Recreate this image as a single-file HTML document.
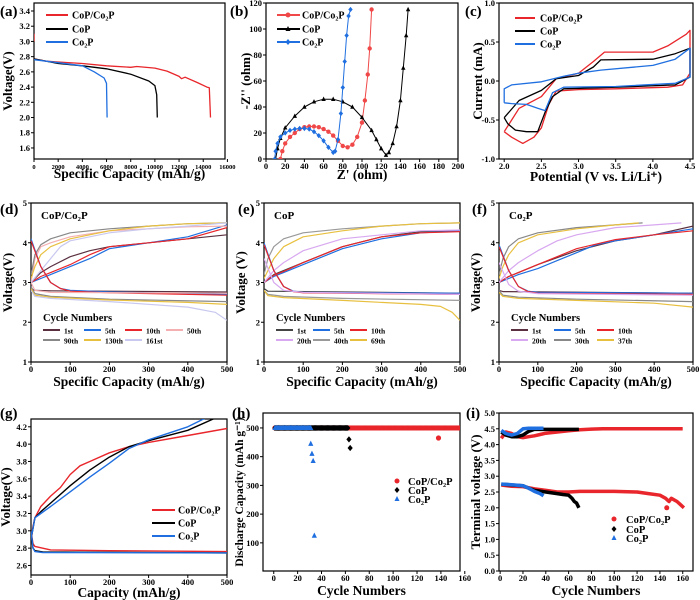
<!DOCTYPE html>
<html><head><meta charset="utf-8"><style>
html,body{margin:0;padding:0;background:#fff;}
svg{display:block;font-family:"Liberation Serif",serif;font-weight:bold;}
</style></head><body>
<svg id="fig" width="700" height="600" viewBox="0 0 700 600"></svg>
<script>
// ---------- data ----------
const aRedX=[0,1000,2000,4000,6000,8000,8500,10000,11000,12000,12200,12500,13500,14300,14500,14600];
const aRedY=[2.77,2.74,2.73,2.71,2.68,2.66,2.67,2.65,2.61,2.54,2.51,2.53,2.46,2.40,2.39,2.0];
const aBlkX=[0,2000,4000,6000,8000,9500,10000,10150,10200];
const aBlkY=[2.77,2.71,2.68,2.64,2.57,2.48,2.42,2.3,2.0];
const aBluX=[0,2000,4000,5000,5800,6000,6050];
const aBluY=[2.76,2.72,2.68,2.6,2.52,2.45,2.0];
const bRedX=[15,17,20,25,30,35,40,45,50,55,60,65,70,75,80,85,90,95,100,103,106,108,110];
const bRedY=[0,6,12,17,20,23,24.5,25,25,24.5,23,21,18,14,10,9,11,17,28,45,65,85,115];
const bBlkX=[10,12,15,20,30,40,50,60,70,80,90,100,110,115,120,125,128,132,136,140,143,146,148];
const bBlkY=[0,8,16,24,33,40,44,46,46,44,40,32,22,15,8,3,5,12,25,45,70,95,115];
const bBluX=[9,10,12,15,20,25,30,35,40,45,50,55,60,65,70,72,75,78,80,82,84,86,88];
const bBluY=[0,6,12,17,20,22,23,23.5,23.5,23,21,18,14,9,5,6,15,35,55,75,95,110,115];
const cRedX=[2.0,2.2,2.5,2.7,3.0,3.2,3.35,3.5,4.0,4.2,4.45,4.5,4.5,4.4,4.2,3.5,3.0,2.7,2.6,2.5,2.4,2.25,2.1,2.0];
const cRedY=[-0.65,-0.35,-0.2,0.03,0.1,0.25,0.37,0.37,0.37,0.45,0.6,0.65,0.1,-0.05,-0.08,-0.1,-0.11,-0.13,-0.3,-0.6,-0.72,-0.8,-0.72,-0.65];
const cBlkX=[2.0,2.2,2.5,2.7,3.0,3.2,3.3,4.0,4.3,4.5,4.5,4.3,3.5,2.8,2.65,2.55,2.45,2.3,2.15,2.05,2.0];
const cBlkY=[-0.47,-0.25,-0.12,0.03,0.07,0.18,0.27,0.28,0.35,0.42,0.05,-0.05,-0.08,-0.1,-0.2,-0.4,-0.65,-0.65,-0.63,-0.55,-0.47];
const cBluX=[2.0,2.0,2.1,2.5,2.8,3.0,3.3,4.0,4.3,4.5,4.5,4.3,3.5,2.8,2.65,2.55,2.45,2.3,2.1,2.0];
const cBluY=[-0.28,-0.1,-0.05,-0.01,0.06,0.1,0.14,0.2,0.28,0.42,0.05,-0.03,-0.07,-0.08,-0.15,-0.38,-0.35,-0.3,-0.29,-0.28];
const dLabels=['1st','5th','10th','50th','90th','130th','161st'];
const dCharge=[
 [[0,3.0],[10,3.1],[25,3.25],[50,3.4],[100,3.65],[150,3.8],[200,3.9],[300,4.0],[400,4.1],[500,4.2]],
 [[0,3.0],[25,3.1],[50,3.2],[100,3.4],[150,3.6],[200,3.85],[300,4.0],[400,4.15],[500,4.45]],
 [[0,3.0],[25,3.15],[50,3.25],[100,3.45],[150,3.7],[200,3.9],[300,4.0],[400,4.1],[500,4.38]],
 [[0,3.0],[10,3.6],[25,3.9],[50,4.0],[100,4.15],[200,4.3],[300,4.35],[400,4.4],[500,4.42]],
 [[0,3.2],[10,3.7],[25,3.95],[50,4.1],[100,4.25],[200,4.35],[300,4.42],[400,4.48],[500,4.5]],
 [[0,3.1],[10,3.4],[25,3.7],[50,3.9],[100,4.1],[200,4.3],[300,4.42],[400,4.48],[500,4.5]],
 [[0,3.0],[25,3.3],[50,3.6],[75,3.9],[100,4.05],[200,4.25],[300,4.35],[400,4.42],[500,4.5]]];
const dDischarge=[
 [[0,2.85],[10,2.8],[50,2.79],[500,2.76]],
 [[0,4.1],[25,3.4],[50,3.0],[75,2.85],[100,2.8],[200,2.76],[500,2.7]],
 [[0,4.05],[25,3.4],[50,3.0],[75,2.85],[100,2.78],[200,2.74],[500,2.68]],
 [[0,3.0],[10,2.8],[50,2.75],[500,2.73]],
 [[0,2.9],[10,2.72],[50,2.65],[200,2.58],[500,2.52]],
 [[0,2.85],[10,2.68],[50,2.63],[200,2.56],[400,2.5],[500,2.45]],
 [[0,2.8],[10,2.65],[50,2.6],[200,2.52],[400,2.38],[470,2.25],[500,2.05]]];
const eLabels=['1st','5th','10th','20th','40th','69th'];
const eCharge=[
 [[0,3.0],[25,3.2],[50,3.3],[100,3.5],[200,3.9],[300,4.15],[400,4.28],[500,4.3]],
 [[0,3.0],[25,3.15],[50,3.25],[100,3.45],[200,3.85],[300,4.1],[400,4.25],[500,4.3]],
 [[0,3.0],[25,3.18],[50,3.28],[100,3.5],[200,3.9],[300,4.15],[400,4.25],[500,4.28]],
 [[0,3.0],[25,3.3],[50,3.5],[100,3.8],[200,4.1],[300,4.2],[400,4.3],[500,4.32]],
 [[0,3.2],[10,3.6],[25,3.9],[50,4.1],[100,4.25],[200,4.35],[300,4.42],[400,4.48],[500,4.5]],
 [[0,3.1],[10,3.3],[25,3.6],[50,3.9],[100,4.15],[200,4.3],[300,4.42],[400,4.48],[500,4.5]]];
const eDischarge=[
 [[0,2.85],[10,2.78],[500,2.73]],
 [[0,4.0],[25,3.3],[50,2.9],[75,2.78],[100,2.75],[500,2.73]],
 [[0,3.95],[25,3.3],[50,2.9],[75,2.77],[100,2.74],[500,2.7]],
 [[0,3.6],[25,3.0],[50,2.8],[100,2.75],[500,2.7]],
 [[0,2.8],[10,2.7],[50,2.65],[200,2.6],[500,2.55]],
 [[0,2.8],[10,2.67],[50,2.62],[200,2.55],[400,2.45],[450,2.4],[480,2.25],[500,2.05]]];
const fLabels=['1st','5th','10th','20th','30th','37th'];
const fCharge=[
 [[0,3.0],[25,3.15],[50,3.25],[100,3.45],[200,3.8],[300,4.05],[400,4.2],[500,4.42]],
 [[0,3.0],[25,3.1],[50,3.2],[100,3.35],[150,3.55],[200,3.75],[250,3.95],[300,4.05],[400,4.2],[500,4.35]],
 [[0,3.0],[25,3.15],[50,3.25],[100,3.45],[200,3.85],[300,4.08],[400,4.2],[500,4.3]],
 [[0,3.0],[25,3.3],[50,3.5],[100,3.8],[150,4.05],[200,4.2],[300,4.38],[400,4.45],[470,4.5]],
 [[0,3.2],[10,3.6],[25,3.9],[50,4.1],[100,4.25],[200,4.38],[300,4.45],[370,4.5]],
 [[0,3.1],[10,3.4],[25,3.7],[50,4.0],[100,4.2],[200,4.35],[300,4.45],[360,4.5]]];
const fDischarge=[
 [[0,2.8],[10,2.77],[500,2.73]],
 [[0,3.95],[25,3.3],[50,2.9],[75,2.78],[100,2.75],[500,2.73]],
 [[0,3.9],[25,3.3],[50,2.9],[75,2.77],[100,2.73],[500,2.7]],
 [[0,3.5],[25,2.95],[50,2.78],[100,2.72],[500,2.68]],
 [[0,2.8],[10,2.68],[50,2.63],[200,2.58],[500,2.52]],
 [[0,2.75],[10,2.65],[50,2.6],[200,2.55],[400,2.48],[500,2.38]]];
const gChargeRed=[[0,2.9],[5,3.05],[10,3.15],[25,3.28],[50,3.4],[75,3.5],[100,3.65],[125,3.75],[150,3.8],[200,3.9],[250,3.97],[300,4.02],[400,4.1],[500,4.18]];
const gChargeBlk=[[0,2.9],[10,3.15],[25,3.22],[50,3.32],[100,3.52],[150,3.7],[200,3.85],[250,3.97],[300,4.04],[400,4.16],[470,4.3]];
const gChargeBlu=[[0,2.9],[10,3.15],[25,3.2],[50,3.28],[100,3.45],[150,3.62],[200,3.78],[250,3.95],[300,4.05],[400,4.2],[445,4.3]];
const gDisRed=[[0,3.0],[5,2.85],[10,2.82],[50,2.78],[200,2.77],[500,2.76]];
const gDisBlk=[[0,3.0],[5,2.8],[10,2.77],[30,2.755],[500,2.745]];
const gDisBlu=[[0,3.0],[5,2.8],[10,2.76],[30,2.75],[500,2.745]];
const hRedCycles=[1,160]; const hRedCap=500;
const hRedOutX=[138]; const hRedOutY=[465];
const hBlkCycles=[1,62]; const hBlkCap=500;
const hBlkOutX=[63,64]; const hBlkOutY=[460,430];
const hBluCycles=[1,31]; const hBluCap=500;
const hBluOutX=[31,32,33,34]; const hBluOutY=[445,410,385,125];
const iRedUpX=[1,5,10,15,20,25,30,35,40,50,60,70,80,90,100,120,140,160];
const iRedUpY=[4.2,4.4,4.35,4.25,4.22,4.25,4.28,4.32,4.36,4.4,4.44,4.47,4.49,4.5,4.5,4.5,4.5,4.5];
const iRedLoX=[1,10,20,30,40,50,60,70,80,100,120,130,140,145,148,150,155,158,161];
const iRedLoY=[2.72,2.68,2.67,2.6,2.55,2.5,2.5,2.52,2.52,2.52,2.5,2.45,2.4,2.3,2.2,2.3,2.2,2.1,2.0];
const iBlkUpX=[1,5,10,15,20,25,30,40,50,60,69];
const iBlkUpY=[4.4,4.3,4.25,4.25,4.3,4.42,4.48,4.48,4.48,4.48,4.48];
const iBlkLoX=[1,10,20,25,30,40,50,55,60,63,65,67,69];
const iBlkLoY=[2.75,2.72,2.7,2.62,2.55,2.5,2.45,2.42,2.4,2.3,2.2,2.15,2.0];
const iBluUpX=[1,5,10,15,20,25,30,38];
const iBluUpY=[4.45,4.35,4.3,4.35,4.5,4.52,4.52,4.52];
const iBluLoX=[1,10,20,25,30,35,38];
const iBluLoY=[2.75,2.73,2.7,2.62,2.52,2.45,2.38];

// ---------- helpers ----------
const NS='http://www.w3.org/2000/svg';
const svg=document.getElementById('fig');
function el(tag,attrs,parent){const e=document.createElementNS(NS,tag);for(const k in attrs)e.setAttribute(k,attrs[k]);(parent||svg).appendChild(e);return e;}
function txt(s,x,y,size,parent,anchor,rot){
  const t=el('text',{x:x,y:y,'font-size':size,'text-anchor':anchor||'start',fill:'#000'},parent);
  if(rot)t.setAttribute('transform','rotate(-90 '+x+' '+y+')');
  t.textContent=s;return t;}
function panel(o){
  const g=el('g',{});
  
  
  const sx=v=>o.l+(v-o.xmin)/(o.xmax-o.xmin)*(o.r-o.l);
  const sy=v=>o.b-(v-o.ymin)/(o.ymax-o.ymin)*(o.b-o.t);
  const frame=el('rect',{x:o.l,y:o.t,width:o.r-o.l,height:o.b-o.t,fill:'none',stroke:'#000','stroke-width':1.2},g);
  
  
  const xs=o.xsize||8.5;
  o.xticks.forEach(v=>{const x=sx(v);el('line',{x1:x,x2:x,y1:o.b,y2:o.b+3,stroke:'#000'},g);
    const t=txt(o.xfmt?o.xfmt(v):String(v),x,o.b+10,xs,g,'middle');
    
    });
  o.yticks.forEach(v=>{const y=sy(v);el('line',{x1:o.l-3,x2:o.l,y1:y,y2:y,stroke:'#000'},g);
    const t=txt(o.yfmt?o.yfmt(v):String(v),o.l-4,y+3,8.5,g,'end');
    
    });
  const xt=txt(o.xtitle,(o.l+o.r)/2,o.xty,13.5,g,'middle');
  
  
  const yt=txt(o.ytitle,o.ytx,(o.t+o.b)/2,o.ysize||13,g,'middle',true);
  
  
  const lt=txt(o.letter,o.lx,o.ly,15,g);
  
  
  const clipId='clip'+o.letter.replace(/\W/g,'');
  const cp=el('clipPath',{id:clipId},g);el('rect',{x:o.l,y:o.t,width:o.r-o.l,height:o.b-o.t},cp);
  const data=el('g',{'clip-path':'url(#'+clipId+')'},g);
  return {g,data,sx,sy};
}
function polyXY(P,xs,ys,color,w,name){
  const pts=xs.map((x,i)=>P.sx(x).toFixed(1)+','+P.sy(ys[i]).toFixed(1)).join(' ');
  const l=el('polyline',{points:pts,fill:'none',stroke:color,'stroke-width':w,'stroke-linejoin':'round'},P.data);
  
  
  return l;}
function polyPairs(P,arr,color,w,name){return polyXY(P,arr.map(p=>p[0]),arr.map(p=>p[1]),color,w,name);}
function marker(parent,type,x,y,color,s){
  let m;
  if(type==='circle')m=el('circle',{cx:x,cy:y,r:s,fill:color},parent);
  else if(type==='tri')m=el('polygon',{points:`${x},${y-s*1.2} ${x-s},${y+s*0.8} ${x+s},${y+s*0.8}`,fill:color},parent);
  else m=el('polygon',{points:`${x},${y-s*1.2} ${x+s},${y} ${x},${y+s*1.2} ${x-s},${y}`,fill:color},parent);
  return m;}
function legLine(parent,x1,x2,y,color,label,tx,size,name){
  const g=el('g',{},parent);
  
  
  el('line',{x1:x1,x2:x2,y1:y,y2:y,stroke:color,'stroke-width':2},g);
  txt(label,tx,y+3.5,size,g);
  return g;}
const RED='#e8262b',BLK='#000',BLU='#1f6fe0';

// ---------- (a) ----------
const A=panel({name:'panel-a-discharge',letter:'(a)',lx:0,ly:16,l:34,r:225,t:3,b:159,xmin:0,xmax:15800,ymin:1.455,ymax:3.505,
 xticks:[0,2000,4000,6000,8000,10000,12000,14000,16000],yticks:[1.6,1.8,2.0,2.2,2.4,2.6,2.8,3.0,3.2,3.4],yfmt:v=>v.toFixed(1),xsize:6.5,
 xtitle:'Specific Capacity (mAh/g)',xty:178,ytitle:'Voltage(V)',ytx:12});
polyXY(A,aRedX,aRedY,RED,1.3,'line-cop-co2p');
polyXY(A,[0,0],[3.0,3.1],RED,1.3,'line-cop-co2p-start');
polyXY(A,aBlkX,aBlkY,BLK,1.3,'line-cop');
polyXY(A,aBluX,aBluY,BLU,1.3,'line-co2p');
legLine(A.g,46,68,15,RED,'CoP/Co₂P',72,10,'legend-cop-co2p');
legLine(A.g,46,68,29,BLK,'CoP',72,10,'legend-cop');
legLine(A.g,46,68,42,BLU,'Co₂P',72,10,'legend-co2p');

// ---------- (b) ----------
const B=panel({name:'panel-b-nyquist',letter:'(b)',lx:230,ly:16,l:266,r:458,t:3,b:159,xmin:0,xmax:200,ymin:0,ymax:120,
 xticks:[0,20,40,60,80,100,120,140,160,180,200],yticks:[0,20,40,60,80,100,120],
 xtitle:"Z' (ohm)",xty:179,ytitle:"-Z'' (ohm)",ytx:250});
[[bRedX,bRedY,'#f04848','circle','series-cop-co2p'],[bBlkX,bBlkY,BLK,'tri','series-cop'],[bBluX,bBluY,BLU,'diamond','series-co2p']].forEach(s=>{
  polyXY(B,s[0],s[1],s[2],1,s[4]+'-line');
  const mg=el('g',{},B.data);
  
  
  s[0].forEach((x,i)=>marker(mg,s[3],B.sx(x),B.sy(s[1][i]),s[2],2.2));
});
[[15,'#f04848','circle','CoP/Co₂P'],[29,BLK,'tri','CoP'],[42,BLU,'diamond','Co₂P']].forEach(s=>{
  const lg=legLine(B.g,277,300,s[0],s[1],s[3],302,10,'legend-entry');
  marker(lg,s[2],288,s[0],s[1],2.5);
});

// ---------- (c) ----------
const C=panel({name:'panel-c-cv',letter:'(c)',lx:465,ly:16,l:499,r:693,t:3,b:159,xmin:1.93,xmax:4.54,ymin:-1.0,ymax:1.0,
 xticks:[2.0,2.5,3.0,3.5,4.0,4.5],yticks:[-1.0,-0.5,0.0,0.5,1.0],xfmt:v=>v.toFixed(1),yfmt:v=>v.toFixed(1),
 xtitle:'Potential (V vs. Li/Li⁺)',xty:181,ytitle:'Current (mA)',ytx:482});
polyXY(C,cRedX,cRedY,RED,1.3,'cv-cop-co2p');
polyXY(C,cBlkX,cBlkY,BLK,1.3,'cv-cop');
polyXY(C,cBluX,cBluY,BLU,1.3,'cv-co2p');
legLine(C.g,515,535,18,RED,'CoP/Co₂P',540,10,'legend-cop-co2p');
legLine(C.g,515,535,31,BLK,'CoP',540,10,'legend-cop');
legLine(C.g,515,535,44,BLU,'Co₂P',540,10,'legend-co2p');

// ---------- (d)(e)(f) ----------
function cyclePanel(cfg){
  const P=panel({name:cfg.name,letter:cfg.letter,lx:cfg.lx,ly:214,l:cfg.l,r:cfg.r,t:203,b:362,xmin:0,xmax:500,ymin:1,ymax:5,
   xticks:[0,100,200,300,400,500],yticks:[1,2,3,4,5],xtitle:'Specific Capacity (mAh/g)',xty:386,ytitle:cfg.ytitle,ytx:cfg.l-19});
  cfg.charge.forEach((c,i)=>polyPairs(P,c,cfg.colors[i],1.2,'charge-'+cfg.labels[i]));
  cfg.dis.forEach((c,i)=>polyPairs(P,c,cfg.colors[i],1.2,'discharge-'+cfg.labels[i]));
  const s=txt(cfg.sample,cfg.l+10,219,11,P.g);
  
  
  const h=txt('Cycle Numbers',cfg.l+12,321,10.5,P.g);
  
  
  cfg.labels.forEach((lb,i)=>{
    const row=Math.floor(i/cfg.perRow),col=i%cfg.perRow;
    const x=cfg.l+12+col*cfg.colW, y=330+row*10;
    legLine(P.g,x,x+17,y,cfg.colors[i],lb,x+21,7.5,'legend-'+lb);
  });
}
const dColors=['#5a3040',BLU,RED,'#f4b0b0','#888888','#e8c040','#c8c8f0'];
cyclePanel({name:'panel-d-cop-co2p-cycles',letter:'(d)',lx:0,l:31,r:227,ytitle:'Voltage(V)',sample:'CoP/Co₂P',
  labels:dLabels,charge:dCharge,dis:dDischarge,colors:dColors,perRow:4,colW:41});
const eColors=['#444444',BLU,RED,'#d8a8f0','#999999','#e8c040'];
cyclePanel({name:'panel-e-cop-cycles',letter:'(e)',lx:238,l:264,r:460,ytitle:'Voltage (V)',sample:'CoP',
  labels:eLabels,charge:eCharge,dis:eDischarge,colors:eColors,perRow:3,colW:37});
const fColors=['#5a3040',BLU,RED,'#d8a8f0','#888888','#e8c040'];
cyclePanel({name:'panel-f-co2p-cycles',letter:'(f)',lx:472,l:499,r:693,ytitle:'Voltage(V)',sample:'Co₂P',
  labels:fLabels,charge:fCharge,dis:fDischarge,colors:fColors,perRow:3,colW:43});

// ---------- (g) ----------
const G=panel({name:'panel-g-first-cycle',letter:'(g)',lx:0,ly:418,l:31,r:227,t:419,b:575,xmin:0,xmax:500,ymin:2.49,ymax:4.29,
 xticks:[0,100,200,300,400,500],yticks:[2.6,2.8,3.0,3.2,3.4,3.6,3.8,4.0,4.2],yfmt:v=>v.toFixed(1),
 xtitle:'Capacity (mAh/g)',xty:597,ytitle:'Voltage(V)',ytx:10});
polyPairs(G,gChargeRed,RED,1.4,'charge-cop-co2p');
polyPairs(G,gChargeBlk,BLK,1.4,'charge-cop');
polyPairs(G,gChargeBlu,BLU,1.4,'charge-co2p');
polyPairs(G,gDisRed,RED,1.4,'discharge-cop-co2p');
polyPairs(G,gDisBlk,BLK,1.4,'discharge-cop');
polyPairs(G,gDisBlu,BLU,1.4,'discharge-co2p');
legLine(G.g,152,175,510,RED,'CoP/Co₂P',178,10,'legend-cop-co2p');
legLine(G.g,152,175,523,BLK,'CoP',178,10,'legend-cop');
legLine(G.g,152,175,536,BLU,'Co₂P',178,10,'legend-co2p');

// ---------- (h) ----------
const H=panel({name:'panel-h-capacity',letter:'(h)',lx:232,ly:418,l:263,r:460,t:413,b:571,xmin:-9,xmax:156,ymin:2,ymax:552,
 xticks:[0,20,40,60,80,100,120,140,160],yticks:[100,200,300,400,500],ysize:11.5,
 xtitle:'Cycle Numbers',xty:595,ytitle:'Discharge Capacity (mAh g⁻¹)',ytx:243});
function hSeries(range,cap,ox,oy,color,type,name){
  const mg=el('g',{},H.data);
  
  
  for(let c=range[0];c<=range[1];c++)marker(mg,type,H.sx(c),H.sy(cap),color,2.6);
  ox.forEach((x,i)=>marker(mg,type,H.sx(x),H.sy(oy[i]),color,2.6));
}
hSeries(hRedCycles,hRedCap,hRedOutX,hRedOutY,RED,'circle','series-cop-co2p');
hSeries(hBlkCycles,hBlkCap,hBlkOutX,hBlkOutY,BLK,'diamond','series-cop');
hSeries(hBluCycles,hBluCap,hBluOutX,hBluOutY,BLU,'tri','series-co2p');
[[481,RED,'circle','CoP/Co₂P'],[490,BLK,'diamond','CoP'],[499,BLU,'tri','Co₂P']].forEach(s=>{
  const g=el('g',{},H.g);
  
  
  marker(g,s[2],397,s[0],s[1],2.5);txt(s[3],408,s[0]+4,10.5,g);
});

// ---------- (i) ----------
const I=panel({name:'panel-i-terminal-voltage',letter:'(i)',lx:466,ly:418,l:499,r:693,t:413,b:571,xmin:-1,xmax:169,ymin:0,ymax:5,
 xticks:[0,20,40,60,80,100,120,140,160],yticks:[0,0.5,1,1.5,2,2.5,3,3.5,4,4.5,5],yfmt:v=>v.toFixed(1),
 xtitle:'Cycle Numbers',xty:595,ytitle:'Terminal voltage (V)',ytx:480});
polyXY(I,iRedUpX,iRedUpY,RED,3.5,'red-charge-voltage');
polyXY(I,iRedLoX,iRedLoY,RED,3.5,'red-discharge-voltage');
polyXY(I,iBlkUpX,iBlkUpY,BLK,3.5,'black-charge-voltage');
polyXY(I,iBlkLoX,iBlkLoY,BLK,3.5,'black-discharge-voltage');
polyXY(I,iBluUpX,iBluUpY,BLU,3.5,'blue-charge-voltage');
polyXY(I,iBluLoX,iBluLoY,BLU,3.5,'blue-discharge-voltage');
marker(I.data,'circle',I.sx(146),I.sy(2.0),RED,2.5);
[[519,RED,'circle','CoP/Co₂P'],[529,BLK,'diamond','CoP'],[538,BLU,'tri','Co₂P']].forEach(s=>{
  const g=el('g',{},I.g);
  
  
  marker(g,s[2],614,s[0],s[1],2.5);txt(s[3],626,s[0]+4,10.5,g);
});
</script>
</body></html>
